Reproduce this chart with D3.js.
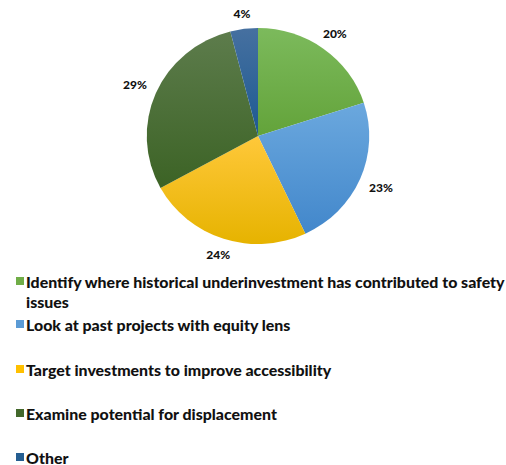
<!DOCTYPE html>
<html>
<head>
<meta charset="utf-8">
<script src="https://cdn.jsdelivr.net/npm/d3@7/dist/d3.min.js"></script>
<style>
  html, body { margin: 0; padding: 0; background: #fff; }
  svg { display: block; }
  text { font-family: Lato, "Open Sans", sans-serif; font-weight: 900; fill: #111; }
</style>
</head>
<body>
<svg id="chart" width="506" height="465"></svg>
<script>
// Responses: which equity approaches to prioritise
const categories = [
  "Identify where historical underinvestment has contributed to safety issues",
  "Look at past projects with equity lens",
  "Target investments to improve accessibility",
  "Examine potential for displacement",
  "Other"
];
const shares = [20, 23, 24, 29, 4];
const percentLabels = ["20%", "23%", "24%", "29%", "4%"];
// legend text, split into the lines it wraps onto
const legendLines = [
  ["Identify where historical underinvestment has contributed to safety", "issues"],
  ["Look at past projects with equity lens"],
  ["Target investments to improve accessibility"],
  ["Examine potential for displacement"],
  ["Other"]
];
// top / bottom colours of each slice's vertical gradient
const gradTop    = ["#7cba5c", "#6ba8de", "#ffc83a", "#5d7c4c", "#4670a0"];
const gradBottom = ["#63a33a", "#4287cb", "#e6b300", "#3c6325", "#1d5a92"];
const swatch     = ["#70ad47", "#5b9bd5", "#ffc000", "#43682b", "#255e91"];

const svg = d3.select("#chart");
const cx = 258, cy = 136, R = 108, sx = 1.03;

const defs = svg.append("defs");
categories.forEach((c, i) => {
  const g = defs.append("linearGradient")
    .attr("id", "slice-grad-" + i)
    .attr("x1", 0).attr("y1", 0).attr("x2", 0).attr("y2", 1);
  g.append("stop").attr("offset", "0%").attr("stop-color", gradTop[i]);
  g.append("stop").attr("offset", "100%").attr("stop-color", gradBottom[i]);
});

const pie = d3.pie().sort(null).value(d => d)(shares);
const arc = d3.arc().innerRadius(0).outerRadius(R);

const pieG = svg.append("g")
  .attr("transform", `translate(${cx},${cy}) scale(${sx},1)`);

pieG.selectAll("path.slice")
  .data(pie)
  .join("path")
  .attr("class", "slice")
  .attr("d", arc)
  .attr("fill", (d, i) => `url(#slice-grad-${i})`);

// percentage labels outside each slice
const labelSize = 12;
const gap = 11;
const lbl = svg.append("g");
pie.forEach((d, i) => {
  const t = lbl.append("text")
    .attr("font-size", labelSize)
    .attr("text-anchor", "middle")
    .attr("dominant-baseline", "central")
    .text(percentLabels[i]);
  const w = t.node().getComputedTextLength();
  const h = labelSize * 0.8;
  const a = (d.startAngle + d.endAngle) / 2;
  const dx = Math.sin(a), dy = -Math.cos(a);
  const ext = Math.hypot(w / 2 * dx, h / 2 * dy);
  const r = R + gap + ext;
  t.attr("x", cx + dx * r * sx).attr("y", cy + dy * r);
});

// legend
const legendX = 26, swatchX = 16, sw = 8;
const rowTops = [281, 324, 369, 413, 457];
const lineH = 20;
const targetWidth = 479;
const lg = svg.append("g");
let fontSize = 14;
const probe = lg.append("text").attr("font-size", 14).text(legendLines[0][0]);
fontSize = 14 * targetWidth / probe.node().getComputedTextLength();
probe.remove();

legendLines.forEach((lines, i) => {
  const y0 = rowTops[i];
  lg.append("rect")
    .attr("x", swatchX).attr("y", y0 - sw / 2)
    .attr("width", sw).attr("height", sw)
    .attr("fill", swatch[i]);
  lines.forEach((ln, j) => {
    lg.append("text")
      .attr("x", legendX)
      .attr("y", y0 + j * lineH)
      .attr("dominant-baseline", "central")
      .attr("font-size", fontSize)
      .text(ln);
  });
});
</script>
</body>
</html>
